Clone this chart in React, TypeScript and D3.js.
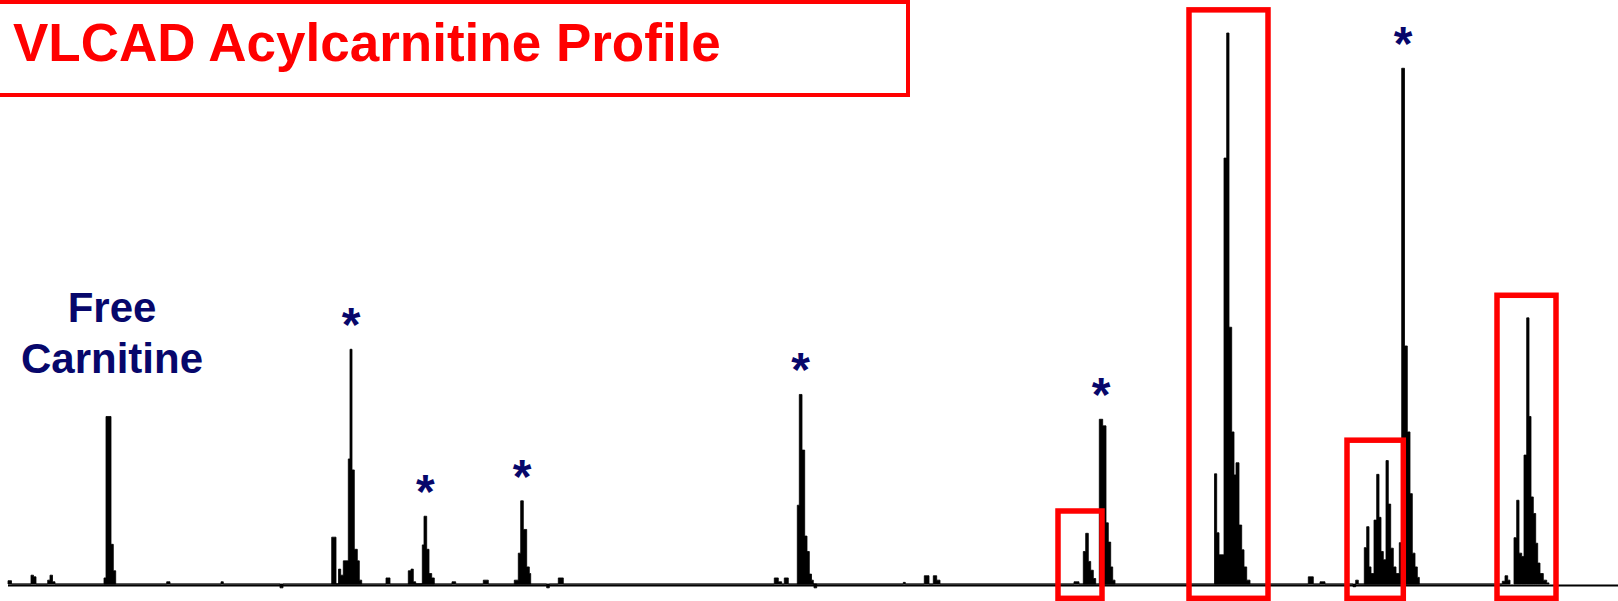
import React, { useEffect, useRef } from 'react';
import * as d3 from 'd3';

type Pt = [number, number];

// profile data: [m/z, relative intensity %], step-after, each cluster ends at 0
const minorPeaks: Pt[] = [
  [200, 0.6], [200.7, 0], [204.6, 1.6], [205.1, 1.3], [205.6, 0], [207.94, 0.7], [208.4, 1.6], [208.9, 0.4], [209.4, 0],
  [231.74, 0.4], [232.4, 0], [242.6, 0.4], [243.06, 0], [254.4, -0.7], [255, 0], [275.6, 1.1], [276.4, 0],
  [288.8, 0.4], [289.54, 0], [295.06, 0.7], [296.06, 0], [307.74, -0.7], [308.26, 0], [310.06, 1.1], [311.06, 0],
  [353.26, 1.1], [354.06, 0.4], [354.74, 0], [355.26, 1.1], [356.06, 0], [379.06, 0.3], [379.46, 0],
  [383.26, 1.5], [384.2, 0], [385.06, 1.5], [385.74, 0.7], [386.4, 0], [413.2, 0.4], [414.2, 0],
  [460.06, 1.3], [461.06, 0], [462.4, 0.4], [463.4, 0], [469, -0.5], [469.54, 0.7], [470.06, 0],
  [498.86, 0.5], [499.4, 1.5], [499.94, 0.7], [500.4, 0],
];
const freeCarnitine: Pt[] = [[219.2, 1.1], [219.6, 30.4], [220.6, 7.2], [221.06, 2.4], [221.54, 0]];
const c2Std: Pt[] = [
  [264.74, 8.5], [265.6, 0], [266.1, 2.7], [266.54, 1.6], [267.06, 4.2], [268.06, 22.7], [268.4, 42.6],
  [268.8, 20.7], [269.26, 6.3], [269.86, 4.2], [270.26, 0.7], [270.74, 0],
];
const c3Std: Pt[] = [
  [280.06, 2.4], [280.6, 2.7], [281.06, 0.4], [281.54, 0], [282.86, 7.1], [283.2, 12.3], [283.74, 6.3],
  [284.2, 1.9], [284.74, 1.1], [285.26, 0],
];
const c4Std: Pt[] = [[301.26, 0.7], [302.06, 5.6], [302.54, 15.1], [303.06, 9.9], [303.74, 3.1], [304.26, 1.9], [304.54, 0]];
const c8Std: Pt[] = [
  [357.86, 14.3], [358.26, 34.4], [358.8, 24.3], [359.34, 8.7], [359.8, 5.9], [360.26, 1.8], [360.7, 0.7],
  [361.06, 0], [361.2, -0.7], [361.74, 0],
];
const c12Peak: Pt[] = [[415.06, 5.9], [415.54, 9.2], [416.06, 4.1], [416.54, 2.5], [417.06, 1.0], [417.54, 0]];
const c14Std: Pt[] = [[418.26, 29.9], [418.94, 28.7], [419.6, 11.1], [420.06, 7.6], [420.54, 3.1], [420.94, 0.7], [421.4, 0]];
const c141Peak: Pt[] = [
  [441.3, 20.0], [441.74, 9.3], [442.2, 5.3], [443.2, 77.3], [443.74, 100], [444.2, 46.6], [444.74, 27.6],
  [445.2, 19.8], [445.6, 22.0], [446.2, 10.7], [446.74, 6.2], [447.2, 3.1], [447.74, 0.7], [448.4, 0],
];
const c16Peak: Pt[] = [
  [471.26, 6.6], [471.74, 10.4], [472.2, 3.1], [472.6, 1.9], [473.2, 11.6], [473.74, 19.9], [474.2, 12.1],
  [474.6, 5.9], [475.06, 4.4], [475.6, 22.4], [476.06, 14.5], [476.54, 6.5], [477.06, 3.1], [477.6, 1.9],
  [478.26, 7.5], [478.74, 0],
];
const c16Std: Pt[] = [[478.74, 93.6], [479.3, 43.2], [479.86, 27.6], [480.4, 16.4], [480.86, 5.6], [481.4, 3.1], [481.86, 1.2], [482.26, 0]];
const c181Peak: Pt[] = [
  [501.2, 8.4], [501.74, 15.2], [502.2, 5.6], [502.74, 5.0], [503.2, 23.4], [503.74, 48.3], [504.2, 30.4],
  [504.6, 15.8], [505.06, 12.8], [505.54, 7.4], [505.94, 3.8], [506.4, 1.9], [507.06, 0.7], [507.74, 0.2], [508.2, 0],
];

const clusters: Pt[][] = [minorPeaks, freeCarnitine, c2Std, c3Std, c4Std, c8Std, c12Peak, c14Std, c141Peak, c16Peak, c16Std, c181Peak];
// internal standards marked with *
const standards: Pt[][] = [c2Std, c3Std, c4Std, c8Std, c14Std, c16Std];
// highlighted m/z windows: [from, to, top intensity]
const highlights: [number, number, number][] = [
  [410, 418.8, 13.25],
  [436.2, 452, 104.2],
  [467.8, 479.06, 26.1],
  [497.8, 509.6, 52.4],
];
const highlightFloor = -2.6;

const W = 1618;
const H = 601;
const navy = '#07076b';
const font = '"Liberation Sans", Arial, sans-serif';

const App = () => {
  const ref = useRef<SVGSVGElement>(null);

  useEffect(() => {
    const svg = d3.select(ref.current);
    svg.selectAll('*').remove();

    const x = d3.scaleLinear().domain([200, 522]).range([8, W]);
    const y = d3.scaleLinear().domain([0, 100]).range([584, 33]);

    const area = d3.area<Pt>()
      .x(d => x(d[0]))
      .y0(y(0))
      .y1(d => y(d[1]))
      .curve(d3.curveStepAfter);

    // baseline
    svg.append('line')
      .attr('x1', x(200)).attr('x2', W)
      .attr('y1', y(0) + 1.5).attr('y2', y(0) + 1.5)
      .attr('stroke', '#000').attr('stroke-width', 2);

    svg.append('g').selectAll('path')
      .data(clusters)
      .join('path')
      .attr('d', d => area(d))
      .attr('fill', '#000')
      .attr('stroke', '#000')
      .attr('stroke-width', 0.8);

    // stars over internal standard peaks
    svg.append('g').selectAll('text')
      .data(standards)
      .join('text')
      .attr('x', d => {
        const i = d3.maxIndex(d, p => p[1]);
        return x((d[i][0] + d[i + 1][0]) / 2);
      })
      .attr('y', d => y(d3.max(d, p => p[1]) as number) - 8)
      .attr('text-anchor', 'middle')
      .attr('font-family', font)
      .attr('font-weight', 'bold')
      .attr('font-size', 48)
      .attr('fill', navy)
      .text('*');

    // free carnitine label
    const fcTop = d3.max(freeCarnitine, p => p[1]) as number;
    const fcX = x(219.6) + 6;
    const lbl = svg.append('text')
      .attr('text-anchor', 'middle')
      .attr('font-family', font)
      .attr('font-weight', 'bold')
      .attr('font-size', 42)
      .attr('fill', navy);
    lbl.append('tspan').attr('x', fcX).attr('y', y(fcTop) - 94).text('Free');
    lbl.append('tspan').attr('x', fcX).attr('y', y(fcTop) - 43).text('Carnitine');

    // highlight boxes
    svg.append('g').selectAll('rect')
      .data(highlights)
      .join('rect')
      .attr('x', d => x(d[0]))
      .attr('y', d => y(d[2]))
      .attr('width', d => x(d[1]) - x(d[0]))
      .attr('height', d => y(highlightFloor) - y(d[2]))
      .attr('fill', 'none')
      .attr('stroke', '#ff0000')
      .attr('stroke-width', 5.5);

    // title box
    svg.append('rect')
      .attr('x', -3).attr('y', 2)
      .attr('width', 911).attr('height', 93)
      .attr('fill', '#fff')
      .attr('stroke', '#ff0000')
      .attr('stroke-width', 4);
    svg.append('text')
      .attr('x', 13).attr('y', 61)
      .attr('font-family', font)
      .attr('font-weight', 'bold')
      .attr('font-size', 53)
      .attr('fill', '#ff0000')
      .text('VLCAD Acylcarnitine Profile');
  }, []);

  return (
    <svg ref={ref} width={W} height={H} style={{ position: 'absolute', left: 0, top: 0, background: '#fff' }} />
  );
};

export default App;
